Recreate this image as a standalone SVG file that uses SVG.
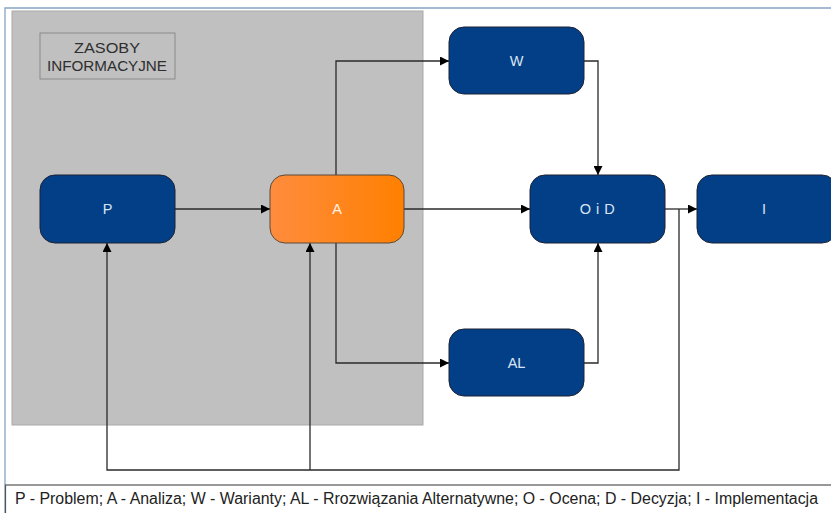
<svg xmlns="http://www.w3.org/2000/svg" width="831" height="513" viewBox="0 0 831 513">
<style>
.node{fill:#033f86;stroke:#1c2233;stroke-width:1}
.lbl{font-family:"Liberation Sans",Arial,sans-serif;font-size:14.5px;fill:#d9e5f5;text-anchor:middle;dominant-baseline:central}
.conn{fill:none;stroke:#2a2a2a;stroke-width:1.3}
.zt{font-family:"Liberation Sans",Arial,sans-serif;font-size:15.5px;fill:#2e2e2e;text-anchor:middle}
</style>
<defs>
<marker id="ah" viewBox="0 0 10 10" refX="10" refY="5" markerWidth="10" markerHeight="9" markerUnits="userSpaceOnUse" orient="auto">
<path d="M0,0 L10,5 L0,10 z" fill="#000"/>
</marker>
<linearGradient id="og" x1="0" y1="0" x2="1" y2="0">
<stop offset="0" stop-color="#ff8c3e"/>
<stop offset="1" stop-color="#ff8000"/>
</linearGradient>
</defs>
<rect width="831" height="513" fill="#fff"/>
<path d="M831,8 H5 V513" fill="none" stroke="#86a4c4" stroke-width="1.3"/>
<g id="zasoby-area">
<rect x="12" y="11" width="411" height="414" fill="#c0c0c0" stroke="#a9a9a9" stroke-width="1"/>
<rect x="40" y="33" width="135" height="46" fill="#c0c0c0" stroke="#8a8a8a" stroke-width="1"/>
<text class="zt" x="107" y="53" textLength="66" lengthAdjust="spacingAndGlyphs">ZASOBY</text>
<text class="zt" x="107" y="71" textLength="120" lengthAdjust="spacingAndGlyphs">INFORMACYJNE</text>
</g>
<g id="connectors">
<path class="conn" d="M175,209 H270" marker-end="url(#ah)"/>
<path class="conn" d="M336,175 V61 H449" marker-end="url(#ah)"/>
<path class="conn" d="M336,243 V363 H449" marker-end="url(#ah)"/>
<path class="conn" d="M404,209 H530" marker-end="url(#ah)"/>
<path class="conn" d="M584,61 H598 V175" marker-end="url(#ah)"/>
<path class="conn" d="M584,363 H598 V243" marker-end="url(#ah)"/>
<path class="conn" d="M665,209 H697" marker-end="url(#ah)"/>
<path class="conn" d="M679,209 V470 H107 V243" marker-end="url(#ah)"/>
<path class="conn" d="M310,470 V243" marker-end="url(#ah)"/>
</g>
<g id="node-P">
<rect class="node" x="40" y="175" width="135" height="68" rx="15"/>
<text class="lbl" x="107.5" y="209">P</text>
</g>
<g id="node-A">
<rect x="270" y="175" width="134" height="68" rx="15" fill="url(#og)" stroke="#5a4a3a" stroke-width="1"/>
<text class="lbl" x="337" y="209" style="fill:#fff3e6">A</text>
</g>
<g id="node-W">
<rect class="node" x="449" y="27" width="135" height="67" rx="15"/>
<text class="lbl" x="516.5" y="61">W</text>
</g>
<g id="node-AL">
<rect class="node" x="449" y="329" width="135" height="67" rx="15"/>
<text class="lbl" x="516.5" y="363">AL</text>
</g>
<g id="node-OiD">
<rect class="node" x="530" y="175" width="135" height="68" rx="15"/>
<text class="lbl" x="597.5" y="209" style="letter-spacing:0.5px">O i D</text>
</g>
<g id="node-I">
<rect class="node" x="697" y="175" width="140" height="68" rx="15"/>
<text class="lbl" x="764" y="209">I</text>
</g>
<g id="legend">
<rect x="5.5" y="485" width="840" height="40" fill="#fff" stroke="#555" stroke-width="1.2"/>
<text x="15" y="504" font-family="'Liberation Sans',Arial,sans-serif" font-size="16" fill="#222" textLength="803" lengthAdjust="spacingAndGlyphs">P - Problem; A - Analiza; W - Warianty; AL - Rrozwiązania Alternatywne; O - Ocena; D - Decyzja; I - Implementacja</text>
</g>
</svg>
